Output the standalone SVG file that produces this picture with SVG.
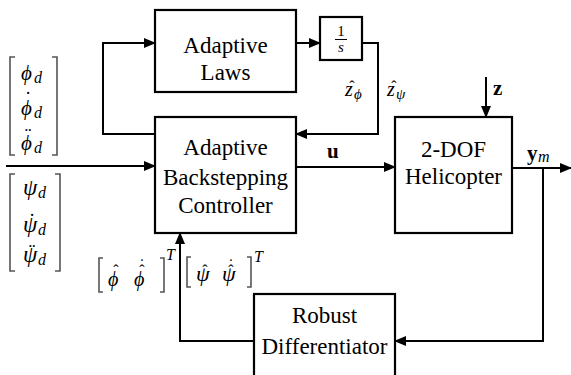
<svg xmlns="http://www.w3.org/2000/svg" width="571" height="375" viewBox="0 0 571 375">
<defs>
<marker id="ah" markerWidth="12" markerHeight="10" refX="11" refY="5" orient="auto" markerUnits="userSpaceOnUse">
<path d="M0,0 L12,5 L0,10 Z" fill="#000"/>
</marker>
<style>
.box{fill:#fff;stroke:#000;stroke-width:2.2}
.ln{fill:none;stroke:#000;stroke-width:2}
.br{fill:none;stroke:#555;stroke-width:1.6}
text{font-family:'Liberation Serif','Times New Roman',serif;fill:#000}
.t{font-size:23px;text-anchor:middle}
.m{font-style:italic}
.a{font-style:normal;text-anchor:middle}
.b{font-weight:bold}
</style>
</defs>
<rect width="571" height="375" fill="#fff"/>

<g id="connectors">
<path class="ln" d="M155,134 H103 V43 H155" marker-end="url(#ah)"/>
<path class="ln" d="M296,43 H320" marker-end="url(#ah)"/>
<path class="ln" d="M362,43 H378 V134 H296" marker-end="url(#ah)"/>
<path class="ln" d="M6,166 H155" marker-end="url(#ah)"/>
<path class="ln" d="M296,167 H395" marker-end="url(#ah)"/>
<path class="ln" d="M486,77 V117" marker-end="url(#ah)"/>
<path class="ln" d="M512,168 H571" marker-end="url(#ah)"/>
<path class="ln" d="M543,168 V341 H395" marker-end="url(#ah)"/>
<path class="ln" d="M254,341 H180 V233" marker-end="url(#ah)"/>
</g>

<g id="adaptive-laws">
<rect class="box" x="155" y="10" width="141" height="82"/>
<text class="t" x="225.5" y="53">Adaptive</text>
<text class="t" x="225.5" y="80">Laws</text>
</g>

<g id="integrator">
<rect class="box" x="320" y="17" width="42" height="43"/>
<text x="341" y="36" font-size="15" text-anchor="middle">1</text>
<line x1="335" y1="39.5" x2="347" y2="39.5" stroke="#000" stroke-width="1"/>
<text class="m" x="341" y="52" font-size="15" text-anchor="middle">s</text>
</g>

<g id="controller">
<rect class="box" x="155" y="117" width="141" height="116"/>
<text class="t" x="225.5" y="155">Adaptive</text>
<text class="t" x="225.5" y="185">Backstepping</text>
<text class="t" x="225.5" y="213">Controller</text>
</g>

<g id="helicopter">
<rect class="box" x="395" y="117" width="117" height="116"/>
<text class="t" x="453.5" y="157">2-DOF</text>
<text class="t" x="453.5" y="184">Helicopter</text>
</g>

<g id="differentiator">
<rect class="box" x="254" y="294" width="141" height="90"/>
<text class="t" x="324.5" y="323">Robust</text>
<text class="t" x="324.5" y="354">Differentiator</text>
</g>

<g id="phi-ref">
<path class="br" d="M15,57 H10 V155 H15"/>
<path class="br" d="M52,57 H57 V155 H52"/>
<text class="m" x="21" y="80" font-size="21">ϕ</text>
<text class="m" x="34" y="83" font-size="16">d</text>
<text class="a" x="28" y="106" font-size="20">˙</text>
<text class="m" x="21" y="115" font-size="21">ϕ</text>
<text class="m" x="34" y="118" font-size="16">d</text>
<text class="a" x="28" y="142" font-size="20">¨</text>
<text class="m" x="21" y="150" font-size="21">ϕ</text>
<text class="m" x="34" y="153" font-size="16">d</text>
</g>

<g id="psi-ref">
<path class="br" d="M15,174 H10 V271 H15"/>
<path class="br" d="M55,174 H60 V271 H55"/>
<text class="m" x="23" y="195" font-size="23">ψ</text>
<text class="m" x="38" y="198" font-size="16">d</text>
<text class="a" x="32" y="228" font-size="20">˙</text>
<text class="m" x="23" y="232" font-size="23">ψ</text>
<text class="m" x="38" y="235" font-size="16">d</text>
<text class="a" x="32" y="258" font-size="20">¨</text>
<text class="m" x="23" y="262" font-size="23">ψ</text>
<text class="m" x="38" y="265" font-size="16">d</text>
</g>

<g id="labels">
<text class="b" x="327" y="158" font-size="21">u</text>
<text class="b" x="493" y="95" font-size="21">z</text>
<text class="b" x="527" y="160" font-size="21">y</text>
<text class="m" x="538" y="162" font-size="16">m</text>
<text class="m" x="345" y="96" font-size="20">z</text>
<text class="a" x="352" y="92" font-size="16">ˆ</text>
<text class="m" x="354" y="99" font-size="15">ϕ</text>
<text class="m" x="387" y="96" font-size="20">z</text>
<text class="a" x="394" y="92" font-size="16">ˆ</text>
<text class="m" x="396" y="99" font-size="15">ψ</text>

<path class="br" d="M103,258 H99 V292 H103"/>
<path class="br" d="M160,258 H164 V292 H160"/>
<text class="m" x="108" y="286" font-size="20">ϕ</text>
<text class="a" x="116" y="276" font-size="16">ˆ</text>
<text class="m" x="134" y="286" font-size="20">ϕ</text>
<text class="a" x="142" y="276" font-size="16">ˆ</text>
<text class="a" x="142" y="270" font-size="16">˙</text>
<text class="m" x="166" y="260" font-size="16">T</text>

<path class="br" d="M191,257 H187 V287 H191"/>
<path class="br" d="M247,257 H251 V287 H247"/>
<text class="m" x="196" y="281" font-size="22">ψ</text>
<text class="a" x="205" y="276" font-size="16">ˆ</text>
<text class="m" x="222" y="281" font-size="22">ψ</text>
<text class="a" x="231" y="276" font-size="16">ˆ</text>
<text class="a" x="231" y="270" font-size="16">˙</text>
<text class="m" x="254" y="262" font-size="16">T</text>
</g>
</svg>
